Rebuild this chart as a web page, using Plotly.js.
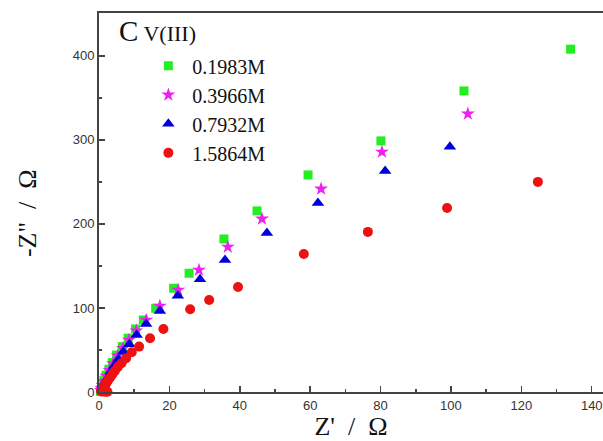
<!DOCTYPE html>
<html>
<head>
<meta charset="utf-8">
<script src="https://cdn.plot.ly/plotly-3.0.1.min.js"></script>
<style>html,body{margin:0;padding:0;background:#fff;}#chart{width:603px;height:441px;}</style>
</head>
<body>
<div id="chart"></div>
<script>
// Series names
const seriesNames = ["0.1983M", "0.3966M", "0.7932M", "1.5864M"];

// 0.1983M (green squares)
const x1 = [0.4, 0.5, 0.7, 1.0, 1.4, 2.0, 2.8, 3.8, 5.0, 6.6, 8.3, 10.4, 12.6, 16.1, 21.2, 25.6, 35.5, 44.9, 59.4, 80.1, 103.7, 134.0];
const y1 = [1, 2.5, 5, 9, 14, 20, 27, 35, 44, 54, 64, 75, 85.7, 99.6, 123.5, 141.3, 182.1, 215.5, 258.3, 298.8, 358.3, 408.0];

// 0.3966M (magenta stars)
const x2 = [0.5, 0.7, 1.0, 1.5, 2.1, 3.0, 4.0, 5.3, 6.8, 8.5, 10.6, 13.4, 17.3, 22.5, 28.4, 36.6, 46.3, 63.1, 80.4, 104.8];
const y2 = [2, 4.5, 8, 13, 19, 26, 34, 43, 52, 62, 73, 85.7, 102.4, 121.4, 145.2, 172.6, 206, 241.7, 285.7, 331];

// 0.7932M (blue triangles)
const x3 = [2.0, 1.6, 1.2, 1.0, 1.2, 1.5, 1.9, 2.5, 3.3, 4.3, 5.5, 6.9, 8.6, 10.7, 13.4, 17.3, 22.4, 28.7, 35.8, 47.7, 62.2, 81.3, 99.7];
const y3 = [1, 3, 2.5, 5, 8, 10, 13, 17, 24, 31, 39, 48, 56.8, 67.9, 81, 96.4, 114.6, 134.2, 157.1, 189.3, 225, 263.1, 291.7];

// 1.5864M (red circles)
const x4 = [2.4, 1.8, 1.2, 0.6, 0.7, 0.8, 1.0, 1.2, 1.5, 1.8, 2.2, 2.7, 3.2, 3.8, 4.5, 5.3, 6.4, 7.7, 9.3, 11.4, 14.5, 18.3, 25.9, 31.3, 39.5, 58.2, 76.4, 98.9, 124.7];
const y4 = [0.3, 0.4, 0.5, 0.5, 1.2, 2.2, 3.5, 5, 7, 9, 11.5, 14.5, 17.5, 21, 25, 29.4, 34.2, 40.1, 47.3, 54, 64, 75, 98.5, 109.5, 125, 164.3, 190.5, 219, 250];

const xs = [x1, x2, x3, x4];
const ys = [y1, y2, y3, y4];
const colors = ["#22ee22", "#ee22ee", "#0000dd", "#ee1111"];
const symbols = ["square", "star", "triangle-up", "circle"];
const sizes = [9, 10.5, 11, 10];

const traces = xs.map((x, i) => ({
  x: x, y: ys[i], type: "scatter", mode: "markers", name: seriesNames[i],
  cliponaxis: false,
  marker: {symbol: symbols[i], color: colors[i], size: sizes[i], line: {width: 0}}
}));

const serif = "Liberation Serif, Times New Roman, serif";

const axisCommon = {
  showline: true, linecolor: "#444", linewidth: 2,
  ticks: "inside", ticklen: 6, tickwidth: 1.5, tickcolor: "#444",
  showgrid: false, zeroline: false,
  tickfont: {family: "Liberation Sans, Arial, sans-serif", size: 13, color: "#333"}
};

const layout = {
  width: 603, height: 441,
  margin: {l: 99, r: 0, t: 13, b: 49},
  paper_bgcolor: "#fff", plot_bgcolor: "#fff",
  showlegend: true,
  legend: {
    x: 0.09, y: 0.912, xanchor: "left", yanchor: "top",
    font: {family: serif, size: 20, color: "#111"},
    bgcolor: "rgba(0,0,0,0)", itemwidth: 38, tracegroupgap: 0
  },
  xaxis: Object.assign({}, axisCommon, {
    range: [0, 143.2], dtick: 20, tick0: 0, mirror: true,
    minor: {dtick: 10, ticklen: 3, ticks: "inside", tickcolor: "#444", tickwidth: 1.5},
    title: {text: "Z'\u00a0 /\u00a0 Ω", standoff: 5, font: {family: serif, size: 26, color: "#111"}}
  }),
  yaxis: Object.assign({}, axisCommon, {
    range: [0, 451], dtick: 100, tick0: 0,
    minor: {dtick: 50, ticklen: 3, ticks: "inside", tickcolor: "#444", tickwidth: 1.5}
  }),
  annotations: [{
    xref: "paper", yref: "paper", x: 0.035, y: 0.953, xanchor: "left", yanchor: "middle",
    showarrow: false,
    text: "<span style=\"font-size:29px\">C</span> V(III)",
    font: {family: serif, size: 22, color: "#111"}
  }, {
    xref: "paper", yref: "paper", x: -0.143, y: 0.472, xanchor: "center", yanchor: "middle",
    showarrow: false, textangle: -90,
    text: "-Z\"\u00a0 /\u00a0 Ω",
    font: {family: serif, size: 26, color: "#111"}
  }]
};

Plotly.newPlot("chart", traces, layout, {displayModeBar: false, staticPlot: true});
</script>
</body>
</html>
